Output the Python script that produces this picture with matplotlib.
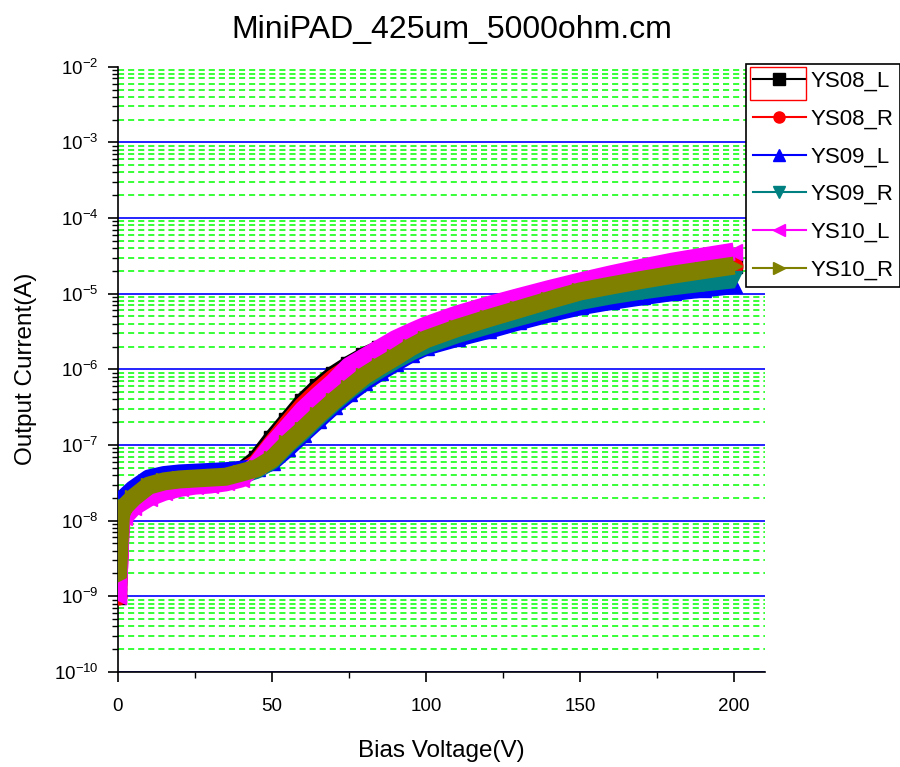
import matplotlib
matplotlib.use('Agg')
import matplotlib.pyplot as plt
from matplotlib.lines import Line2D
from matplotlib.patches import Rectangle
from matplotlib.ticker import LogLocator, MultipleLocator, NullFormatter

plt.rcParams['font.family'] = ['Liberation Sans', 'DejaVu Sans']
plt.rcParams['mathtext.fontset'] = 'custom'
plt.rcParams['mathtext.rm'] = 'Liberation Sans'
plt.rcParams['mathtext.it'] = 'Liberation Sans:italic'
plt.rcParams['mathtext.bf'] = 'Liberation Sans:bold'

# bias voltage (V)
voltage = [0, 0.5, 1, 2, 5, 10, 15, 20, 25, 30, 35, 40, 45, 50, 55, 60, 65, 70, 75, 80,
           85, 90, 95, 100, 110, 120, 130, 140, 150, 160, 170, 180, 190, 200]

# output current (A) per pad
ys08_l = [1.0e-9, 4e-9, 1.2e-8, 1.5e-8, 2.0e-8, 2.9e-8, 3.2e-8, 3.4e-8, 3.5e-8, 3.6e-8,
          3.8e-8, 4.5e-8, 6.5e-8, 1.2e-7, 2.1e-7, 3.7e-7, 5.8e-7, 8.5e-7, 1.15e-6, 1.5e-6,
          1.85e-6, 2.3e-6, 2.8e-6, 3.3e-6, 4.5e-6, 5.9e-6, 7.5e-6, 9.5e-6, 1.17e-5, 1.4e-5,
          1.65e-5, 1.9e-5, 2.15e-5, 2.4e-5]
ys08_r = [1.0e-9, 3.5e-9, 1.1e-8, 1.4e-8, 1.9e-8, 2.8e-8, 3.1e-8, 3.3e-8, 3.4e-8, 3.5e-8,
          3.7e-8, 4.3e-8, 5.8e-8, 1.05e-7, 1.9e-7, 3.3e-7, 5.2e-7, 7.7e-7, 1.05e-6, 1.4e-6,
          1.75e-6, 2.2e-6, 2.65e-6, 3.1e-6, 4.3e-6, 5.7e-6, 7.2e-6, 9.1e-6, 1.12e-5, 1.35e-5,
          1.6e-5, 1.85e-5, 2.1e-5, 2.35e-5]
ys09_l = [2.3e-9, 6e-9, 1.4e-8, 2.0e-8, 2.6e-8, 3.6e-8, 4.0e-8, 4.2e-8, 4.3e-8, 4.4e-8,
          4.5e-8, 4.7e-8, 5.0e-8, 6.0e-8, 9.0e-8, 1.4e-7, 2.15e-7, 3.3e-7, 4.8e-7, 6.8e-7,
          9.2e-7, 1.22e-6, 1.6e-6, 2.0e-6, 2.6e-6, 3.3e-6, 4.3e-6, 5.5e-6, 6.8e-6, 8.0e-6,
          9.2e-6, 1.05e-5, 1.17e-5, 1.3e-5]
ys09_r = [2.0e-9, 5e-9, 1.2e-8, 1.5e-8, 1.9e-8, 2.7e-8, 3.0e-8, 3.2e-8, 3.3e-8, 3.4e-8,
          3.5e-8, 4.0e-8, 4.7e-8, 6.2e-8, 1.0e-7, 1.5e-7, 2.35e-7, 3.6e-7, 5.3e-7, 7.5e-7,
          1.0e-6, 1.32e-6, 1.7e-6, 2.1e-6, 2.9e-6, 3.8e-6, 4.9e-6, 6.3e-6, 8.0e-6, 9.5e-6,
          1.1e-5, 1.25e-5, 1.4e-5, 1.55e-5]
ys10_l = [1.0e-9, 3e-9, 1.0e-8, 1.1e-8, 1.5e-8, 2.0e-8, 2.4e-8, 2.7e-8, 2.9e-8, 3.0e-8,
          3.2e-8, 3.6e-8, 5.5e-8, 1.0e-7, 1.7e-7, 2.9e-7, 4.5e-7, 6.8e-7, 1.1e-6, 1.45e-6,
          1.9e-6, 2.5e-6, 3.1e-6, 3.8e-6, 5.3e-6, 7.0e-6, 9.0e-6, 1.15e-5, 1.45e-5, 1.8e-5,
          2.2e-5, 2.65e-5, 3.1e-5, 3.6e-5]
ys10_r = [1.8e-9, 5e-9, 1.2e-8, 1.5e-8, 2.0e-8, 2.9e-8, 3.3e-8, 3.5e-8, 3.6e-8, 3.7e-8,
          3.8e-8, 4.3e-8, 4.9e-8, 6.5e-8, 1.05e-7, 1.6e-7, 2.5e-7, 3.8e-7, 5.6e-7, 8.2e-7,
          1.1e-6, 1.45e-6, 1.95e-6, 2.5e-6, 3.5e-6, 4.7e-6, 6.2e-6, 8.2e-6, 1.07e-5, 1.28e-5,
          1.52e-5, 1.78e-5, 2.05e-5, 2.35e-5]

labels = ['YS08_L', 'YS08_R', 'YS09_L', 'YS09_R', 'YS10_L', 'YS10_R']
series = [ys08_l, ys08_r, ys09_l, ys09_r, ys10_l, ys10_r]
colors = ['black', '#ff0000', '#0000ff', '#008080', '#ff00ff', '#808000']
markers = ['s', 'o', '^', 'v', '<', '>']

fig = plt.figure(figsize=(9, 7.67), dpi=100)
ax = fig.add_axes([0.131, 0.124, 0.719, 0.789])

for vals, c, m in zip(series, colors, markers):
    ax.plot(voltage, vals, color=c, lw=13, marker=m, ms=12, solid_capstyle='butt', zorder=3)

ax.set_yscale('log')
ax.set_xlim(0, 210)
ax.set_ylim(1e-10, 1e-2)

ax.xaxis.set_major_locator(MultipleLocator(50))
ax.xaxis.set_minor_locator(MultipleLocator(25))
ax.yaxis.set_major_locator(LogLocator(base=10, numticks=20))
ax.yaxis.set_minor_locator(LogLocator(base=10, subs=range(2, 10), numticks=20))
ax.yaxis.set_minor_formatter(NullFormatter())

ax.spines['top'].set_visible(False)
ax.spines['right'].set_visible(False)
for s in ['left', 'bottom']:
    ax.spines[s].set_linewidth(1.2)

ax.tick_params(which='major', direction='out', length=7, width=1.2, labelsize=13.5)
ax.tick_params(axis='x', which='major', pad=12)
ax.tick_params(axis='y', which='major', pad=7)
ax.tick_params(which='minor', direction='out', length=4, width=1.0)

# decade lines solid blue, sub-decade lines dashed green
ax.grid(which='major', axis='y', color='#0000ff', lw=1.2, ls='-', zorder=1)
ax.grid(which='minor', axis='y', color='#00ff00', lw=1.1, ls=(0, (4, 2.6)), zorder=1)

ax.set_xlabel('Bias Voltage(V)', fontsize=17.5, labelpad=18)
ax.set_ylabel('Output Current(A)', fontsize=17.5, labelpad=12)
fig.suptitle('MiniPAD_425um_5000ohm.cm', fontsize=23, x=0.502, y=0.98)

handles = [Line2D([], [], color=c, lw=1.5, marker=m, ms=8) for c, m in zip(colors, markers)]
leg = fig.legend(handles, labels, loc='upper left', bbox_to_anchor=(0.829, 0.916),
                 fontsize=16, frameon=True, fancybox=False, edgecolor='black',
                 framealpha=1, borderpad=0.3, labelspacing=0.75, handlelength=2.4,
                 handletextpad=0.2, borderaxespad=0)
leg.get_frame().set_linewidth(1.2)

# selection box round the first legend entry
fig.patches.append(Rectangle((0.833, 0.870), 0.063, 0.043, fill=False, zorder=10,
                             edgecolor='#ff0000', lw=1.0, transform=fig.transFigure))

fig.canvas.draw()
for t in ax.yaxis.get_major_ticks():
    if abs(t.get_loc() - 1e-2) < 1e-6:
        t.gridline.set_visible(False)

fig.savefig('out.png', dpi=100)
